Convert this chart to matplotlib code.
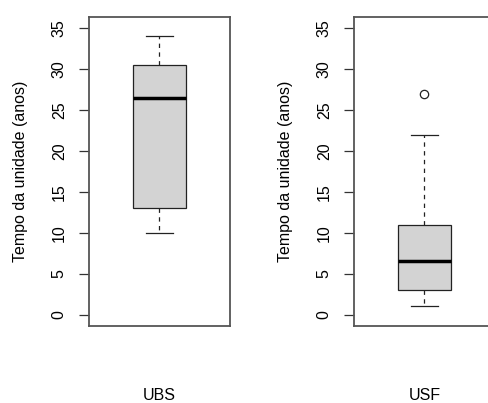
import matplotlib
matplotlib.use("Agg")
import matplotlib.pyplot as plt

plt.rcParams['font.family'] = ['Liberation Sans', 'DejaVu Sans']

groups = ["UBS", "USF"]
whislo = [10, 1]
q1 = [13, 3]
med = [26.5, 6.5]
q3 = [30.5, 11]
whishi = [34, 22]
fliers = [[], [27]]
yticks = [0, 5, 10, 15, 20, 25, 30, 35]
ylabel = "Tempo da unidade (anos)"

fig = plt.figure(figsize=(4.89, 4.03), dpi=100)
bottom = 1 - 326 / 403
height = (326 - 16.7) / 403
lefts = [89 / 489, 354 / 489]
width = 141 / 489

for i, g in enumerate(groups):
    ax = fig.add_axes([lefts[i], bottom, width, height])
    stats = [dict(whislo=whislo[i], q1=q1[i], med=med[i], q3=q3[i],
                  whishi=whishi[i], fliers=fliers[i], label=g)]
    ax.bxp(stats, positions=[1], widths=0.4, patch_artist=True, showfliers=True,
           boxprops=dict(facecolor='#d3d3d3', edgecolor='#222222', linewidth=0.9),
           medianprops=dict(color='black', linewidth=2.5),
           whiskerprops=dict(color='#222222', linewidth=0.9, linestyle=(0, (3.5, 3.5))),
           capprops=dict(color='#222222', linewidth=0.9),
           capwidths=0.2,
           flierprops=dict(marker='o', markersize=6, markerfacecolor='none',
                           markeredgecolor='#222222', markeredgewidth=0.9))
    ax.set_xlim(0.46, 1.54)
    ax.set_ylim(-1.4, 36.4)
    ax.set_xticks([])
    ax.set_yticks(yticks)
    ax.set_yticklabels([str(t) for t in yticks], rotation=90, va='center', fontsize=11.5)
    ax.tick_params(axis='y', direction='out', length=7.5, width=0.9, color='#333333', pad=8.5)
    ax.set_ylabel(ylabel, fontsize=11.5, labelpad=17)
    for s in ax.spines.values():
        s.set_color('#555555')
        s.set_linewidth(1.3)
    ax.text(0.5, -(395 - 326) / (326 - 16.7), g, transform=ax.transAxes,
            ha='center', va='center', fontsize=11.5)

fig.savefig("out.png", dpi=100)
